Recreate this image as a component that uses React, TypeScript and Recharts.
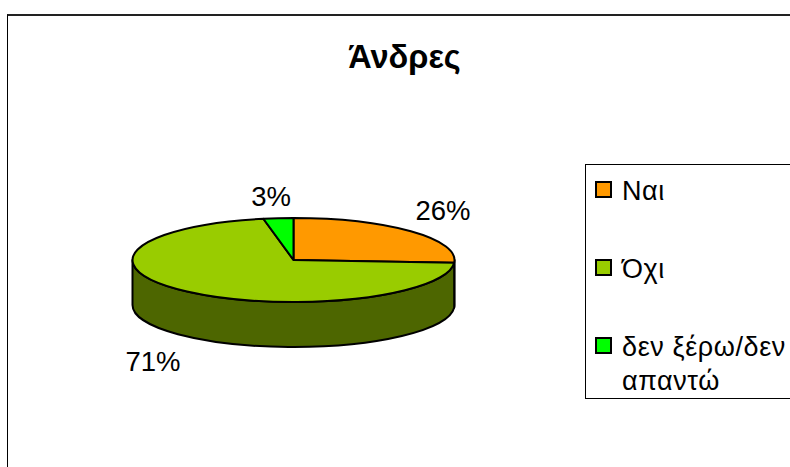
import React from "react";
import { PieChart, Pie, Legend } from "recharts";

const answers = ["Ναι", "Όχι", "δεν ξέρω/δεν απαντώ"];
const shares = [26, 71, 3];
const topFills = ["#ff9900", "#99cc00", "#00ff00"];
const sideFills = ["#804d00", "#4d6600", "#008000"];

const rows = answers.map((name, i) => ({ name, value: shares[i], fill: topFills[i] }));

const FONT = '"Liberation Sans", Arial, sans-serif';
const CX = 293.5;
const CY = 260;
const RX = 161;
const TILT = 42 / 161;
const DEPTH = 45;
// small per-slice shifts for the percent labels, in slice order
const LABEL_SHIFT = [
  [0, -3],
  [-5, 0],
  [-3, 4],
];

const toRad = (deg: number) => (deg * Math.PI) / 180;

// flattened pie: angles are taken on the ellipse, wall only on the front half
function DiscSlice(props: any) {
  const { cx, cy, outerRadius: r, startAngle, endAngle, fill } = props;
  const ry = r * TILT;
  const at = (deg: number, dy = 0) =>
    `${cx + r * Math.cos(toRad(deg))} ${cy - ry * Math.sin(toRad(deg)) + dy}`;
  const large = Math.abs(endAngle - startAngle) > 180 ? 1 : 0;
  const wallFrom = Math.min(startAngle, 0);
  const wallTo = Math.max(endAngle, -180);
  const wall = wallFrom > wallTo;
  return (
    <g>
      {wall && (
        <path
          d={`M${at(wallFrom)} A${r} ${ry} 0 0 1 ${at(wallTo)} L${at(wallTo, DEPTH)} A${r} ${ry} 0 0 0 ${at(wallFrom, DEPTH)} Z`}
          fill={sideFills[topFills.indexOf(fill)]}
          stroke="#000"
          strokeWidth={2}
          strokeLinejoin="round"
        />
      )}
      <path
        d={`M${cx} ${cy} L${at(startAngle)} A${r} ${ry} 0 ${large} 1 ${at(endAngle)} Z`}
        fill={fill}
        stroke="#000"
        strokeWidth={2}
        strokeLinejoin="round"
      />
    </g>
  );
}

function ShareLabel(props: any) {
  const { cx, cy, midAngle, value, index } = props;
  const s = Math.sin(toRad(midAngle));
  const x = cx + 205 * Math.cos(toRad(midAngle)) + LABEL_SHIFT[index][0];
  const y = cy - 68 * s + (s < 0 ? 50 : 0) + LABEL_SHIFT[index][1];
  return (
    <text x={x} y={y} textAnchor="middle" dominantBaseline="central" fontFamily={FONT} fontSize={27.5} fill="#000">
      {`${value}%`}
    </text>
  );
}

function LegendBox({ payload }: any) {
  return (
    <div
      style={{
        boxSizing: "border-box",
        width: 210,
        height: 235,
        borderLeft: "1px solid #000",
        borderTop: "1px solid #000",
        borderBottom: "1px solid #000",
        background: "#fff",
        fontFamily: FONT,
        fontSize: 27,
        letterSpacing: 0.6,
        lineHeight: "34px",
        color: "#000",
        position: "relative",
      }}
    >
      {(payload ?? []).map((entry: any, i: number) => (
        <div key={entry.value} style={{ position: "absolute", left: 9, top: 9 + i * 78, display: "flex" }}>
          <span
            style={{
              boxSizing: "border-box",
              width: 17,
              height: 17,
              marginTop: 7,
              marginRight: 10,
              border: "2px solid #000",
              background: entry.color,
              flex: "none",
            }}
          />
          <span style={{ width: 175 }}>{entry.value}</span>
        </div>
      ))}
    </div>
  );
}

export default function App() {
  return (
    <div style={{ position: "fixed", left: 0, top: 0, width: 790, height: 467, overflow: "hidden", background: "#fff" }}>
      <div
        style={{
          position: "absolute",
          left: 7,
          top: 14,
          width: 800,
          height: 470,
          borderLeft: "1px solid #000",
          borderTop: "2px solid #222",
        }}
      />
      <PieChart width={790} height={467} margin={{ top: 0, right: 0, bottom: 0, left: 0 }} style={{ position: "absolute", left: 0, top: 0 }}>
        <text x={404.5} y={57} textAnchor="middle" dominantBaseline="central" fontFamily={FONT} fontWeight={700} fontSize={32.5} fill="#000">
          Άνδρες
        </text>
        <Pie
          data={rows}
          dataKey="value"
          nameKey="name"
          cx={CX}
          cy={CY}
          innerRadius={0}
          outerRadius={RX}
          startAngle={90}
          endAngle={-270}
          shape={DiscSlice}
          label={ShareLabel}
          labelLine={false}
          rootTabIndex={-1}
          isAnimationActive={false}
        />
        <Legend
          layout="vertical"
          align="right"
          verticalAlign="top"
          itemSorter={null}
          content={LegendBox}
          wrapperStyle={{ left: 585, top: 164, width: 210 }}
        />
      </PieChart>
    </div>
  );
}
